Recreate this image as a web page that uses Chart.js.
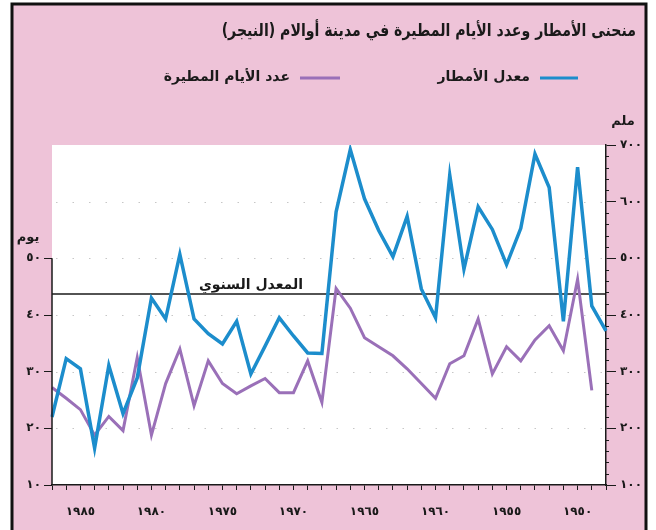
<!DOCTYPE html>
<html lang="ar">
<head>
<meta charset="UTF-8">
<title>منحنى الأمطار وعدد الأيام المطيرة</title>
<script src="https://cdn.jsdelivr.net/npm/chart.js"></script>
<style>
  html, body { margin: 0; padding: 0; background: #fff; }
  #wrap { width: 656px; height: 530px; }
</style>
</head>
<body>
<div id="wrap"><canvas id="rainChart" width="656" height="530"></canvas></div>
<script>
// years run right to left, newest first
const YEARS = [1987, 1986, 1985, 1984, 1983, 1982, 1981, 1980, 1979, 1978,
               1977, 1976, 1975, 1974, 1973, 1972, 1971, 1970, 1969, 1968,
               1967, 1966, 1965, 1964, 1963, 1962, 1961, 1960, 1959, 1958,
               1957, 1956, 1955, 1954, 1953, 1952, 1951, 1950, 1949, 1948];

// annual rainfall, mm
const RAIN_MM = [220, 323, 305, 165, 311, 226, 289, 430, 393, 507,
                 393, 367, 349, 389, 296, 345, 395, 363, 333, 332,
                 582, 692, 605, 549, 503, 574, 446, 395, 647, 481,
                 591, 551, 489, 553, 684, 625, 389, 661, 416, 372];

// number of rainy days
const RAINY_DAYS = [27.2, 25.3, 23.3, 18.8, 22.1, 19.6, 32.5, 18.8, 27.9, 34.0,
                    24.0, 31.9, 27.9, 26.1, 27.5, 28.8, 26.3, 26.3, 31.9, 24.6,
                    44.7, 41.2, 36.0, 34.4, 32.8, 30.5, 27.9, 25.3, 31.4, 32.8,
                    39.3, 29.6, 34.4, 31.9, 35.6, 38.1, 33.7, 46.3, 26.7, null];

const ANNUAL_MEAN_MM = 437;

const YEAR_TICKS = [1985, 1980, 1975, 1970, 1965, 1960, 1955, 1950];
const YEAR_TICK_LABELS = ['١٩٨٥', '١٩٨٠', '١٩٧٥', '١٩٧٠', '١٩٦٥', '١٩٦٠', '١٩٥٥', '١٩٥٠'];
const DAY_TICKS = [10, 20, 30, 40, 50];
const DAY_TICK_LABELS = ['١٠', '٢٠', '٣٠', '٤٠', '٥٠'];
const MM_TICKS = [100, 200, 300, 400, 500, 600, 700];
const MM_TICK_LABELS = ['١٠٠', '٢٠٠', '٣٠٠', '٤٠٠', '٥٠٠', '٦٠٠', '٧٠٠'];

const TITLE = 'منحنى الأمطار وعدد الأيام المطيرة في مدينة أوالام (النيجر)';
const MEAN_LABEL = 'المعدل السنوي';

const FONT = 'DejaVu Sans';
const INK = '#1a1a1a';
const PINK = '#eec3d8';

// page decoration: pink card, frame, title, legend, units, mean line
const decor = {
    id: 'decor',
    beforeDraw(chart) {
        const { ctx, width, height, chartArea: a } = chart;
        ctx.save();
        ctx.fillStyle = '#fff';
        ctx.fillRect(0, 0, width, height);
        ctx.fillStyle = PINK;
        ctx.fillRect(12, 4, 634, 526);
        ctx.fillStyle = '#fff';
        ctx.fillRect(a.left, a.top, a.right - a.left, a.bottom - a.top);

        // faint dotted guide lines
        const yr = chart.scales.yRain;
        ctx.strokeStyle = 'rgba(0,0,0,0.22)';
        ctx.lineWidth = 1;
        ctx.setLineDash([1.5, 15]);
        MM_TICKS.slice(1, -1).forEach(v => {
            const y = Math.round(yr.getPixelForValue(v)) + 0.5;
            ctx.beginPath();
            ctx.moveTo(a.left + 4, y);
            ctx.lineTo(a.right - 4, y);
            ctx.stroke();
        });
        ctx.restore();
    },
    beforeDatasetsDraw(chart) {
        const { ctx, chartArea: a } = chart;
        const y = chart.scales.yRain.getPixelForValue(ANNUAL_MEAN_MM);
        ctx.save();
        ctx.strokeStyle = INK;
        ctx.lineWidth = 1.5;
        ctx.beginPath();
        ctx.moveTo(a.left, y);
        ctx.lineTo(a.right, y);
        ctx.stroke();
        ctx.direction = 'rtl';
        ctx.fillStyle = INK;
        ctx.font = 'bold 14px "' + FONT + '"';
        ctx.textAlign = 'right';
        ctx.textBaseline = 'alphabetic';
        ctx.fillText(MEAN_LABEL, 303, y - 5);
        ctx.restore();
    },
    afterDraw(chart) {
        const { ctx, chartArea: a } = chart;
        ctx.save();

        // left axis only runs from 50 days down
        const yd = chart.scales.yDays;
        ctx.strokeStyle = INK;
        ctx.lineWidth = 1.5;
        ctx.beginPath();
        ctx.moveTo(a.left, yd.getPixelForValue(50));
        ctx.lineTo(a.left, a.bottom);
        ctx.stroke();

        // minor ticks on the mm axis
        const yr = chart.scales.yRain;
        ctx.lineWidth = 1;
        for (let v = 120; v < 700; v += 20) {
            if (v % 100 === 0) continue;
            const y = Math.round(yr.getPixelForValue(v)) + 0.5;
            ctx.beginPath();
            ctx.moveTo(a.right, y);
            ctx.lineTo(a.right + 3, y);
            ctx.stroke();
        }

        // frame
        ctx.strokeStyle = '#111';
        ctx.lineWidth = 3;
        ctx.strokeRect(12, 4, 634, 528);

        ctx.direction = 'rtl';
        ctx.fillStyle = INK;
        ctx.textBaseline = 'middle';
        ctx.textAlign = 'right';

        // title, slightly condensed
        ctx.save();
        ctx.translate(636, 32);
        ctx.scale(0.83, 1);
        ctx.font = 'bold 17px "' + FONT + '"';
        ctx.fillText(TITLE, 0, 0);
        ctx.restore();

        // legend, right to left
        const items = [[578, 540, 530], [340, 300, 290]];
        ctx.font = 'bold 14px "' + FONT + '"';
        chart.data.datasets.forEach((ds, i) => {
            const [x1, x2, tx] = items[i];
            ctx.strokeStyle = ds.borderColor;
            ctx.lineWidth = 3;
            ctx.beginPath();
            ctx.moveTo(x2, 78);
            ctx.lineTo(x1, 78);
            ctx.stroke();
            ctx.fillText(ds.label, tx, 77);
        });

        ctx.font = 'bold 13px "' + FONT + '"';
        ctx.textAlign = 'center';
        ctx.fillText('ملم', 623, 122);
        ctx.fillText('يوم', 28, 238);
        ctx.restore();
    }
};

const tickFont = { family: FONT, size: 12, weight: 'bold' };

new Chart(document.getElementById('rainChart'), {
    type: 'line',
    data: {
        labels: YEARS,
        datasets: [{
            label: 'معدل الأمطار',
            data: RAIN_MM,
            yAxisID: 'yRain',
            borderColor: '#1c8dcc',
            borderWidth: 3.5,
            pointRadius: 0,
            tension: 0,
            order: 0
        }, {
            label: 'عدد الأيام المطيرة',
            data: RAINY_DAYS,
            yAxisID: 'yDays',
            borderColor: '#9a70b8',
            borderWidth: 3,
            pointRadius: 0,
            tension: 0,
            order: 1
        }]
    },
    options: {
        responsive: false,
        animation: false,
        layout: { padding: { top: 145, left: 0, right: 0, bottom: 0 } },
        plugins: {
            legend: { display: false },
            title: { display: false },
            tooltip: { enabled: false }
        },
        scales: {
            x: {
                type: 'category',
                offset: false,
                grid: { drawOnChartArea: false, tickLength: 5, color: INK, lineWidth: 1 },
                border: { color: INK, width: 1.5 },
                ticks: {
                    autoSkip: false,
                    maxRotation: 0,
                    padding: 15,
                    color: INK,
                    font: tickFont,
                    callback: (value, index) => {
                        const i = YEAR_TICKS.indexOf(YEARS[index]);
                        return i >= 0 ? YEAR_TICK_LABELS[i] : '';
                    }
                },
                afterFit: s => { s.height = 45; }
            },
            yDays: {
                type: 'linear',
                position: 'left',
                min: 10,
                max: 70,
                afterBuildTicks: s => { s.ticks = DAY_TICKS.map(v => ({ value: v })); },
                grid: { drawOnChartArea: false, tickLength: 8, color: INK, lineWidth: 1 },
                border: { display: false },
                ticks: {
                    padding: 3,
                    color: INK,
                    font: tickFont,
                    callback: v => DAY_TICK_LABELS[DAY_TICKS.indexOf(v)]
                },
                afterFit: s => { s.width = 52; }
            },
            yRain: {
                type: 'linear',
                position: 'right',
                min: 100,
                max: 700,
                afterBuildTicks: s => { s.ticks = MM_TICKS.map(v => ({ value: v })); },
                grid: { drawOnChartArea: false, tickLength: 10, color: INK, lineWidth: 1 },
                border: { color: INK, width: 1.5 },
                ticks: {
                    padding: 4,
                    color: INK,
                    font: tickFont,
                    callback: v => MM_TICK_LABELS[MM_TICKS.indexOf(v)]
                },
                afterFit: s => { s.width = 50; }
            }
        }
    },
    plugins: [decor]
});
</script>
</body>
</html>
